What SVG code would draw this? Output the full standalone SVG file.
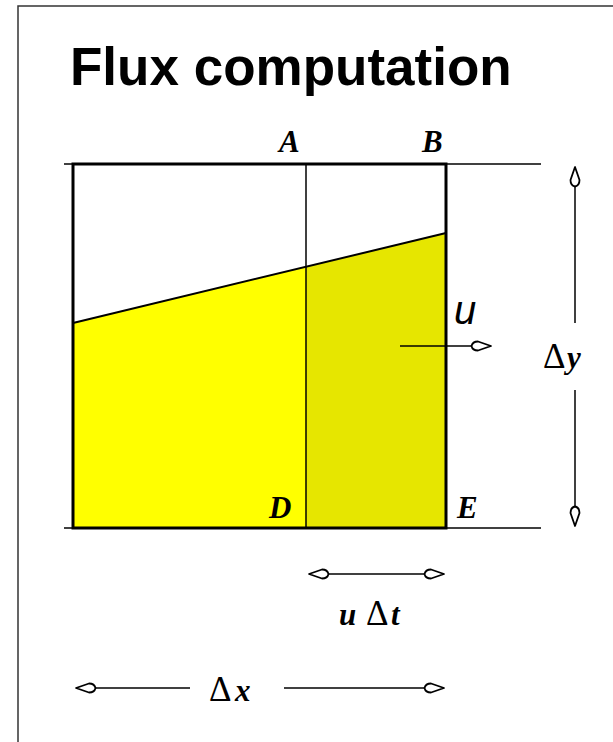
<svg xmlns="http://www.w3.org/2000/svg" width="613" height="742" viewBox="0 0 613 742">
<style>
.title{font-family:"Liberation Sans",Arial,sans-serif;font-weight:bold;font-size:53px;fill:#000}
.lbl{font-family:"Liberation Serif","Times New Roman",serif;font-weight:bold;font-style:italic;font-size:31px;fill:#000}
.var{font-family:"Liberation Serif","Times New Roman",serif;font-weight:bold;font-style:italic;font-size:31px}
.delta{font-family:"Liberation Serif","Times New Roman",serif;font-weight:normal;font-style:normal;font-size:35px}
.dim{fill:#000}
.ulab{font-family:"Liberation Sans",Arial,sans-serif;font-style:italic;font-size:40px;fill:#000}
.ln{stroke:#000;stroke-width:1.5;fill:none}
.slope{stroke:#000;stroke-width:2;fill:none}
.thick{stroke:#000;stroke-width:3;fill:none}
.arr{stroke:#000;stroke-width:1.5;fill:none;marker-end:url(#kite)}
.arr2{stroke:#000;stroke-width:1.5;fill:none;marker-start:url(#kite);marker-end:url(#kite)}
</style>
<defs>
<marker id="kite" markerUnits="userSpaceOnUse" markerWidth="24" markerHeight="12" viewBox="-1 -6 23 12" refX="20" refY="0" orient="auto-start-reverse" overflow="visible">
<path d="M20,0 L7,-4.5 Q1.5,-4.5 0.5,0 Q1.5,4.5 7,4.5 Z" fill="#fff" stroke="#000" stroke-width="1.8" stroke-linejoin="round"/>
</marker>
</defs>
<rect width="613" height="742" fill="#fff"/>
<path d="M18,742 V6 H613" fill="none" stroke="#333" stroke-width="1.5"/>
<text class="title" x="70" y="85">Flux computation</text>
<g id="cell">
<polygon points="73,323 306,267 306,528 73,528" fill="#ffff00"/>
<polygon points="306,267 446,233 446,528 306,528" fill="#e6e600"/>
<line class="ln" x1="64" y1="164" x2="541" y2="164"/>
<line class="ln" x1="64" y1="528" x2="541" y2="528"/>
<line class="slope" x1="73" y1="323" x2="446" y2="233"/>
<line class="ln" x1="306" y1="164" x2="306" y2="528"/>
<rect class="thick" x="73" y="164" width="373" height="364"/>
</g>
<g id="labels">
<text class="lbl" x="279" y="152">A</text>
<text class="lbl" x="422" y="152">B</text>
<text class="lbl" x="269" y="518">D</text>
<text class="lbl" x="457" y="518">E</text>
<text class="ulab" x="454" y="324">u</text>
</g>
<g id="connectors">
<line class="arr" x1="400" y1="346" x2="491" y2="346"/>
<line class="arr" x1="575" y1="323" x2="575" y2="167"/>
<line class="arr" x1="575" y1="390" x2="575" y2="526"/>
<line class="arr2" x1="309" y1="574" x2="444" y2="574"/>
<line class="arr" x1="190" y1="688" x2="76" y2="688"/>
<line class="arr" x1="284" y1="688" x2="444" y2="688"/>
</g>
<g id="dims">
<text class="dim" y="368"><tspan class="delta" x="543">Δ</tspan><tspan class="var" x="567">y</tspan></text>
<text class="dim" y="625"><tspan class="var" x="339">u</tspan><tspan class="delta" x="366">Δ</tspan><tspan class="var" x="391">t</tspan></text>
<text class="dim" y="701"><tspan class="delta" x="209">Δ</tspan><tspan class="var" x="235">x</tspan></text>
</g>
</svg>
